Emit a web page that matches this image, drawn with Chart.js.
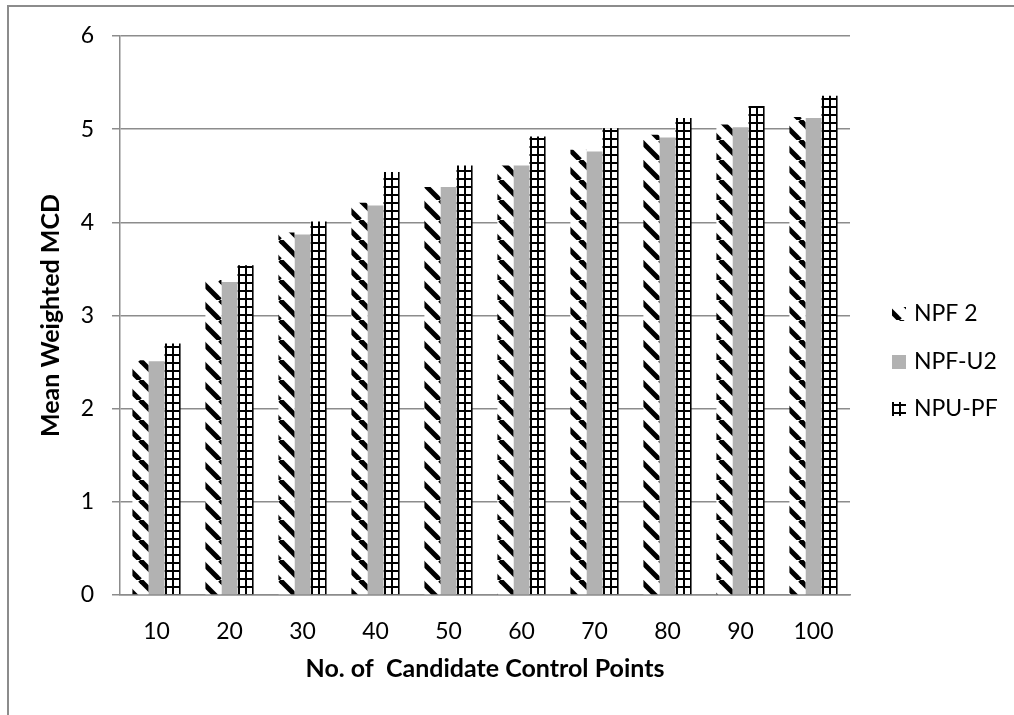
<!DOCTYPE html>
<html>
<head>
<meta charset="utf-8">
<title>Mean Weighted MCD</title>
<script src="https://cdn.jsdelivr.net/npm/chart.js@4.4.0/dist/chart.umd.min.js"></script>
<style>
  html, body { margin: 0; padding: 0; background: #fff; }
  #wrap { position: relative; width: 1014px; height: 715px; overflow: hidden; }
  #frame { position: absolute; left: 7px; top: 5px; right: -10px; bottom: -10px;
           border-top: 2px solid #8c8c8c; border-left: 2px solid #8c8c8c; }
  canvas { position: absolute; left: 0; top: 0; }
</style>
</head>
<body>
<div id="wrap">
  <div id="frame"></div>
  <canvas id="chart" width="1014" height="715"></canvas>
</div>
<script>
// data
const categories = ['10', '20', '30', '40', '50', '60', '70', '80', '90', '100'];
const seriesNames = ['NPF 2', 'NPF-U2', 'NPU-PF'];
const npf2 = [2.52, 3.38, 3.89, 4.21, 4.38, 4.61, 4.78, 4.94, 5.05, 5.13];
const npfU2 = [2.51, 3.36, 3.87, 4.18, 4.38, 4.61, 4.76, 4.91, 5.02, 5.12];
const npuPf = [2.70, 3.54, 4.01, 4.54, 4.61, 4.92, 5.01, 5.12, 5.25, 5.36];
const yTicks = [0, 1, 2, 3, 4, 5, 6];

const FONT = 'Lato, "Open Sans", sans-serif';
const GRID = '#8c8c8c';
const GRAY = '#b2b2b2';
const CAT_PCT = 0.66;

// "\" diagonal stripes
function stripeTile() {
    const P = 20;
    const c = document.createElement('canvas');
    c.width = P; c.height = P;
    const g = c.getContext('2d');
    g.fillStyle = '#fff';
    g.fillRect(0, 0, P, P);
    g.strokeStyle = '#000';
    g.lineWidth = 5;
    for (let k = -1; k <= 1; k++) {
        g.beginPath();
        g.moveTo(k * P, 0);
        g.lineTo(k * P + P, P);
        g.stroke();
    }
    return c;
}

// square grid
function gridTile() {
    const c = document.createElement('canvas');
    c.width = 7; c.height = 8;
    const g = c.getContext('2d');
    g.fillStyle = '#fff';
    g.fillRect(0, 0, 7, 8);
    g.fillStyle = '#000';
    g.fillRect(0, 0, 2, 8);
    g.fillRect(0, 0, 7, 2);
    return c;
}

const stripes = stripeTile();
const grid = gridTile();
const ctx = document.getElementById('chart').getContext('2d');
const stripePattern = ctx.createPattern(stripes, 'repeat');

// grid pattern lined up with the left edge of each bar
function gridFill(context) {
    const xs = context.chart.scales.x;
    const pat = ctx.createPattern(grid, 'repeat');
    if (!xs || !xs.width || context.dataIndex === undefined) return pat;
    const gw = xs.width / categories.length * CAT_PCT;
    const left = xs.getPixelForValue(context.dataIndex) + gw / 6;
    pat.setTransform(new DOMMatrix().translate(Math.round(left), 2));
    return pat;
}

const legendPlugin = {
    id: 'sideLegend',
    afterDraw(chart) {
        const c = chart.ctx;
        const fills = [stripePattern, GRAY, null];
        const rows = [314, 362, 409];
        c.save();
        seriesNames.forEach((name, i) => {
            const y = rows[i];
            if (i === 2) {
                const p = c.createPattern(grid, 'repeat');
                p.setTransform(new DOMMatrix().translate(892, y - 5));
                c.fillStyle = p;
            } else {
                c.fillStyle = fills[i];
            }
            c.fillRect(892, y - 7, 14, 14);
            c.fillStyle = '#000';
            c.font = '23px ' + FONT;
            c.textBaseline = 'middle';
            c.textAlign = 'left';
            c.fillText(name, 914, y);
        });
        c.restore();
    }
};

new Chart(ctx, {
    type: 'bar',
    data: {
        labels: categories,
        datasets: [
            { label: seriesNames[0], data: npf2, backgroundColor: stripePattern },
            { label: seriesNames[1], data: npfU2, backgroundColor: GRAY },
            { label: seriesNames[2], data: npuPf, backgroundColor: gridFill }
        ]
    },
    options: {
        responsive: false,
        animation: false,
        events: [],
        categoryPercentage: CAT_PCT,
        barPercentage: 1,
        layout: { padding: { left: 0, top: 36, right: 164, bottom: 0 } },
        plugins: {
            legend: { display: false },
            tooltip: { enabled: false }
        },
        scales: {
            x: {
                grid: { display: false, drawTicks: false },
                border: { display: true, color: GRID, width: 1.5 },
                ticks: { color: '#000', font: { family: FONT, size: 23 }, padding: 23, maxRotation: 0 },
                title: {
                    display: true,
                    text: 'No. of  Candidate Control Points',
                    color: '#000',
                    font: { family: FONT, size: 25, weight: 'bold' },
                    padding: { top: 0, bottom: 31 }
                },
                afterFit: s => { s.height = 120; }
            },
            y: {
                min: yTicks[0],
                max: yTicks[yTicks.length - 1],
                afterBuildTicks: s => { s.ticks = yTicks.map(v => ({ value: v })); },
                ticks: { color: '#000', font: { family: FONT, size: 23 }, padding: 18 },
                grid: { color: GRID, lineWidth: 1.5, tickLength: 8 },
                border: { display: true, color: GRID, width: 1.5 },
                title: {
                    display: true,
                    text: 'Mean Weighted MCD',
                    color: '#000',
                    font: { family: FONT, size: 25, weight: 'bold' },
                    padding: { top: 36, bottom: 0 }
                },
                afterFit: s => { s.width = 120; }
            }
        }
    },
    plugins: [legendPlugin]
});
</script>
</body>
</html>
